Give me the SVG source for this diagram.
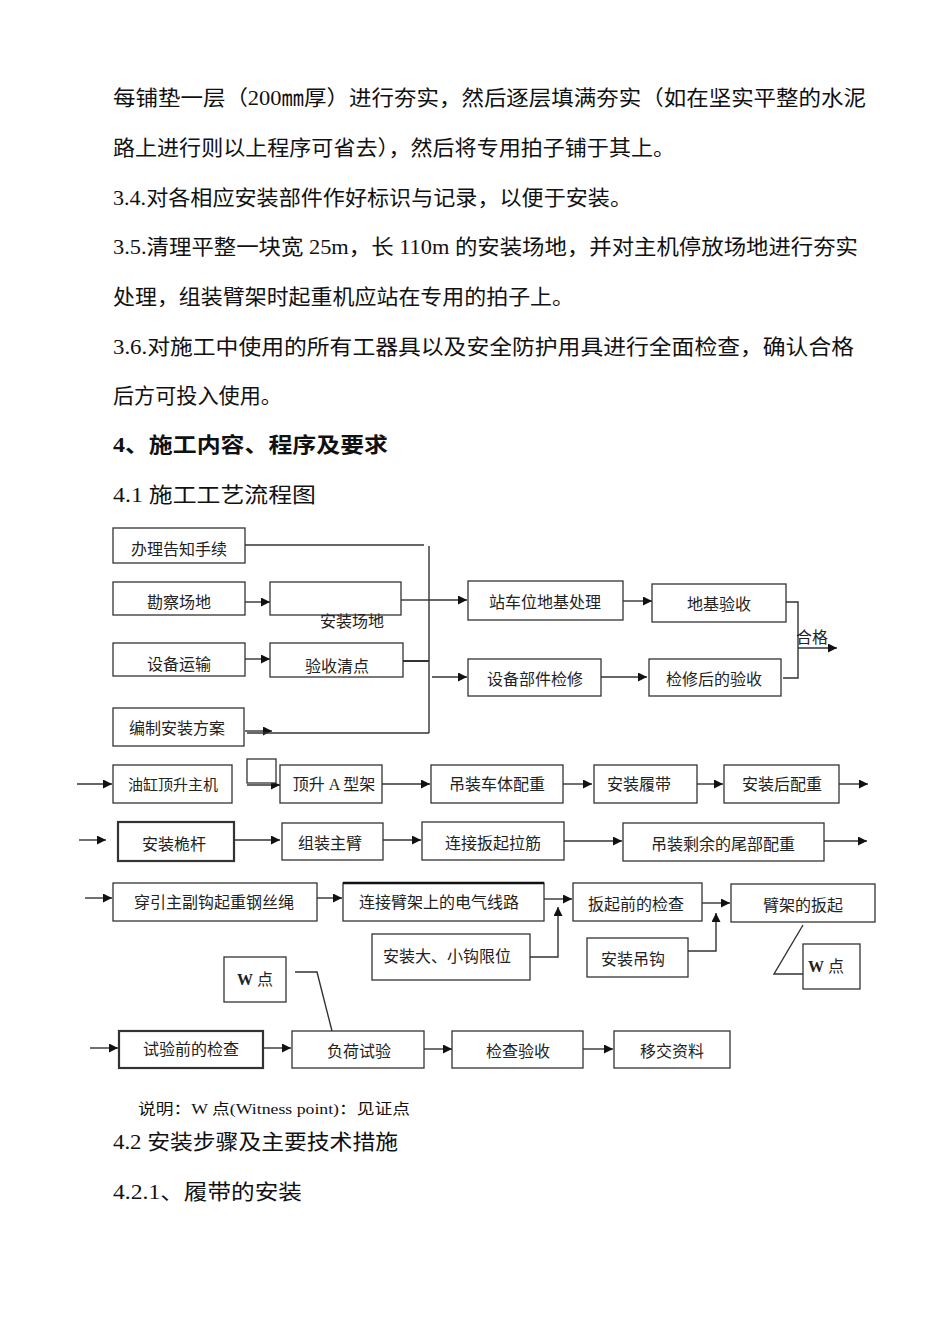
<svg xmlns="http://www.w3.org/2000/svg" width="950" height="1344" viewBox="0 0 950 1344">
<style>
.body{font-family:"Liberation Serif","Noto Sans CJK SC",serif;font-size:21px;fill:#111}
.hd{font-weight:bold}
.box{fill:#fff;stroke:#333;stroke-width:1.3}
.thick{stroke-width:2.2}
.lbl{font-family:"Liberation Serif","Noto Sans CJK SC",sans-serif;font-size:16px;text-anchor:middle;fill:#222}
.ln{stroke:#333;stroke-width:1.4;fill:none}
.ar{marker-end:url(#ah)}
</style>
<defs>
<marker id="ah" viewBox="0 0 10 10" refX="10" refY="5" markerWidth="11" markerHeight="9" markerUnits="userSpaceOnUse" orient="auto">
<path d="M0,0 L10,5 L0,10 z" fill="#111"/>
</marker>
</defs>
<rect width="950" height="1344" fill="#fff"/>

<g id="text">
<text class="body" x="113" y="105" textLength="753" lengthAdjust="spacingAndGlyphs">每铺垫一层（200㎜厚）进行夯实，然后逐层填满夯实（如在坚实平整的水泥</text>
<text class="body" x="113" y="155" textLength="562" lengthAdjust="spacingAndGlyphs">路上进行则以上程序可省去），然后将专用拍子铺于其上。</text>
<text class="body" x="113" y="205" textLength="519" lengthAdjust="spacingAndGlyphs">3.4.对各相应安装部件作好标识与记录，以便于安装。</text>
<text class="body" x="113" y="254" textLength="745" lengthAdjust="spacingAndGlyphs">3.5.清理平整一块宽 25m，长 110m 的安装场地，并对主机停放场地进行夯实</text>
<text class="body" x="113" y="304" textLength="461" lengthAdjust="spacingAndGlyphs">处理，组装臂架时起重机应站在专用的拍子上。</text>
<text class="body" x="113" y="354" textLength="741" lengthAdjust="spacingAndGlyphs">3.6.对施工中使用的所有工器具以及安全防护用具进行全面检查，确认合格</text>
<text class="body" x="113" y="403" textLength="169" lengthAdjust="spacingAndGlyphs">后方可投入使用。</text>
<text class="body hd" x="113" y="452" textLength="275" lengthAdjust="spacingAndGlyphs">4、施工内容、程序及要求</text>
<text class="body" x="113" y="502" textLength="203" lengthAdjust="spacingAndGlyphs">4.1 施工工艺流程图</text>
<text class="body" x="138" y="1114" style="font-size:15px" textLength="272" lengthAdjust="spacingAndGlyphs">说明：W 点(Witness point)：见证点</text>
<text class="body" x="113" y="1149" textLength="285" lengthAdjust="spacingAndGlyphs">4.2 安装步骤及主要技术措施</text>
<text class="body" x="113" y="1199" textLength="189" lengthAdjust="spacingAndGlyphs">4.2.1、履带的安装</text>
</g>

<g id="connectors">
<polyline class="ln" points="245,545 424,545"/>
<line class="ln" x1="429" y1="546" x2="429" y2="733"/>
<line class="ln ar" x1="245" y1="602" x2="270" y2="602"/>
<line class="ln" x1="401" y1="600" x2="429" y2="600"/>
<line class="ln ar" x1="429" y1="600" x2="467" y2="600"/>
<line class="ln ar" x1="245" y1="659" x2="270" y2="659"/>
<line class="ln" x1="401" y1="661" x2="429" y2="661" style="stroke-width:2"/>
<line class="ln ar" x1="432" y1="677" x2="467" y2="677"/>
<line class="ln ar" x1="245" y1="731" x2="272" y2="731"/>
<line class="ln" x1="247" y1="733" x2="429" y2="733"/>
<line class="ln ar" x1="623" y1="601" x2="652" y2="601"/>
<polyline class="ln" points="786,602 798,602 798,678 783,678"/>
<line class="ln ar" x1="798" y1="648" x2="837" y2="648"/>
<line class="ln ar" x1="601" y1="677" x2="647" y2="677"/>

<line class="ln ar" x1="77" y1="784" x2="112" y2="784"/>
<line class="ln" x1="247" y1="782" x2="276" y2="782"/>
<line class="ln ar" x1="247" y1="785" x2="280" y2="785"/>
<line class="ln ar" x1="382" y1="784" x2="430" y2="784"/>
<line class="ln ar" x1="563" y1="784" x2="592" y2="784"/>
<line class="ln ar" x1="697" y1="784" x2="723" y2="784"/>
<line class="ln ar" x1="839" y1="784" x2="868" y2="784"/>

<line class="ln ar" x1="79" y1="840" x2="106" y2="840"/>
<line class="ln ar" x1="234" y1="840" x2="280" y2="840"/>
<line class="ln ar" x1="383" y1="840" x2="421" y2="840"/>
<line class="ln ar" x1="564" y1="841" x2="622" y2="841"/>
<line class="ln ar" x1="824" y1="841" x2="867" y2="841"/>

<line class="ln ar" x1="85" y1="898" x2="112" y2="898"/>
<line class="ln ar" x1="317" y1="898" x2="342" y2="898"/>
<line class="ln ar" x1="544" y1="899" x2="572" y2="899"/>
<polyline class="ln ar" points="530,957 558,957 558,907"/>
<line class="ln ar" x1="702" y1="903" x2="730" y2="903"/>
<polyline class="ln ar" points="688,951 716,951 716,913"/>
<polyline class="ln" points="803,925 774,974 803,974"/>
<polyline class="ln" points="295,972 317,972 332,1031"/>

<line class="ln ar" x1="90" y1="1048" x2="118" y2="1048"/>
<line class="ln ar" x1="263" y1="1048" x2="291" y2="1048"/>
<line class="ln ar" x1="424" y1="1049" x2="452" y2="1049"/>
<line class="ln ar" x1="583" y1="1049" x2="613" y2="1049"/>
</g>

<g id="n1"><rect class="box" x="113" y="528" width="132" height="35"/><text class="lbl" x="179" y="555">办理告知手续</text></g>
<g id="n2"><rect class="box" x="113" y="582" width="132" height="33"/><text class="lbl" x="179" y="608">勘察场地</text></g>
<g id="n3"><rect class="box" x="270" y="582" width="131" height="33"/><text class="lbl" x="352" y="627">安装场地</text></g>
<g id="n4"><rect class="box" x="113" y="643" width="132" height="33"/><text class="lbl" x="179" y="670">设备运输</text></g>
<g id="n5"><rect class="box" x="270" y="643" width="133" height="34"/><text class="lbl" x="337" y="672">验收清点</text></g>
<g id="n6"><rect class="box" x="113" y="708" width="131" height="38"/><text class="lbl" x="177" y="734">编制安装方案</text></g>
<g id="n7"><rect class="box" x="468" y="581" width="155" height="39"/><text class="lbl" x="545" y="608">站车位地基处理</text></g>
<g id="n8"><rect class="box" x="652" y="584" width="134" height="38"/><text class="lbl" x="719" y="610">地基验收</text></g>
<g id="n9"><text class="lbl" x="812" y="643">合格</text></g>
<g id="n10"><rect class="box" x="468" y="659" width="133" height="37"/><text class="lbl" x="535" y="685">设备部件检修</text></g>
<g id="n11"><rect class="box" x="649" y="659" width="132" height="37"/><text class="lbl" x="714" y="685">检修后的验收</text></g>

<g id="n12"><rect class="box" x="113" y="765" width="119" height="38"/><text class="lbl" x="173" y="790" style="font-size:15px">油缸顶升主机</text></g>
<g id="n13"><rect class="box" x="247" y="759" width="29" height="24"/></g>
<g id="n14"><rect class="box" x="280" y="765" width="102" height="38"/><text class="lbl" x="334" y="790">顶升 A 型架</text></g>
<g id="n15"><rect class="box" x="431" y="765" width="132" height="38"/><text class="lbl" x="497" y="790">吊装车体配重</text></g>
<g id="n16"><rect class="box" x="594" y="765" width="103" height="38"/><text class="lbl" x="639" y="790">安装履带</text></g>
<g id="n17"><rect class="box" x="724" y="765" width="115" height="38"/><text class="lbl" x="782" y="790">安装后配重</text></g>

<g id="n18"><rect class="box thick" x="118" y="822" width="116" height="39"/><text class="lbl" x="174" y="850">安装桅杆</text></g>
<g id="n19"><rect class="box" x="282" y="823" width="101" height="37"/><text class="lbl" x="330" y="849">组装主臂</text></g>
<g id="n20"><rect class="box" x="422" y="822" width="142" height="38"/><text class="lbl" x="493" y="849">连接扳起拉筋</text></g>
<g id="n21"><rect class="box" x="623" y="823" width="201" height="38"/><text class="lbl" x="723" y="850">吊装剩余的尾部配重</text></g>

<g id="n22"><rect class="box" x="113" y="883" width="204" height="38"/><text class="lbl" x="214" y="908">穿引主副钩起重钢丝绳</text></g>
<g id="n23"><rect class="box" x="343" y="883" width="201" height="38"/><line x1="343" y1="883" x2="544" y2="883" stroke="#111" stroke-width="2.5"/><text class="lbl" x="439" y="908">连接臂架上的电气线路</text></g>
<g id="n24"><rect class="box" x="573" y="883" width="129" height="38"/><text class="lbl" x="636" y="910">扳起前的检查</text></g>
<g id="n25"><rect class="box" x="731" y="884" width="144" height="38"/><text class="lbl" x="803" y="911">臂架的扳起</text></g>
<g id="n26"><rect class="box" x="372" y="934" width="158" height="46"/><text class="lbl" x="447" y="962">安装大、小钩限位</text></g>
<g id="n27"><rect class="box" x="587" y="938" width="101" height="39"/><text class="lbl" x="633" y="965">安装吊钩</text></g>
<g id="n28"><rect class="box" x="803" y="944" width="57" height="45"/><text class="lbl" x="826" y="972"><tspan font-weight="bold">W</tspan> 点</text></g>
<g id="n29"><rect class="box" x="224" y="957" width="62" height="45"/><text class="lbl" x="255" y="985"><tspan font-weight="bold">W</tspan> 点</text></g>

<g id="n30"><rect class="box thick" x="119" y="1031" width="144" height="37"/><text class="lbl" x="191" y="1055">试验前的检查</text></g>
<g id="n31"><rect class="box" x="292" y="1031" width="132" height="37"/><text class="lbl" x="359" y="1057">负荷试验</text></g>
<g id="n32"><rect class="box" x="452" y="1031" width="131" height="37"/><text class="lbl" x="518" y="1057">检查验收</text></g>
<g id="n33"><rect class="box" x="614" y="1031" width="116" height="37"/><text class="lbl" x="672" y="1057">移交资料</text></g>
</svg>
